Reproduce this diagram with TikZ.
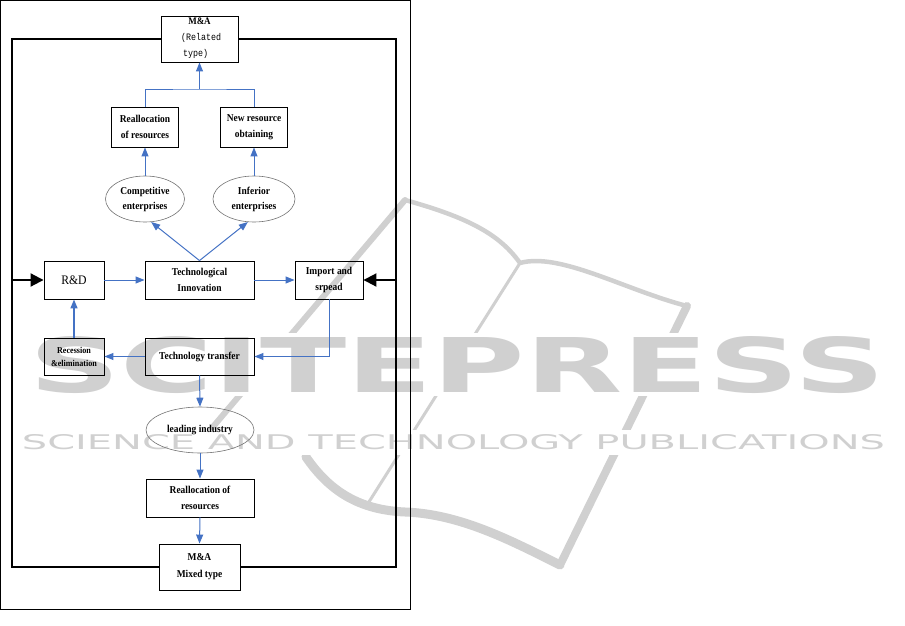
\documentclass[tikz,border=0pt]{standalone}
\usepackage{fontspec}
\setmainfont{Liberation Serif}
\newfontfamily\lbl{Liberation Serif}[FakeStretch=0.9]
\newfontfamily\cjkmono{Liberation Mono}[FakeStretch=0.85]
\newfontfamily\wmfont{DejaVu Sans}
\usepackage{graphicx}
\usetikzlibrary{arrows.meta,shapes.geometric}
\definecolor{arrblue}{RGB}{68,114,196}
\definecolor{wmgray}{RGB}{208,208,208}
\begin{document}
\begin{tikzpicture}[x=1pt,y=-1pt,
  box/.style={draw,line width=0.9pt,inner sep=0pt,align=center,font=\lbl\fontsize{10.5}{16}\selectfont\bfseries},
  ell/.style={ellipse,draw=black!55,line width=0.6pt,inner sep=0pt,align=center,font=\lbl\fontsize{10.5}{15}\selectfont\bfseries},
  bl/.style={draw=arrblue,line width=1pt},
  ba/.style={bl,-{Triangle[length=9pt,width=7pt]},arrblue},
  ka/.style={line width=2pt,-{Triangle[length=13pt,width=13pt]}},
  loopline/.style={line width=2pt},
  wm/.style={draw=wmgray,line cap=round,line join=round}]
\useasboundingbox (0,0) rectangle (905,626);
% watermark
\draw[wm,line width=6pt] (405,200) -- (212,428);
\draw[wm,line width=4.5pt] (405,200) .. controls (470,218) and (500,235) .. (520,263) .. controls (560,252) and (625,290) .. (687,306);
\draw[wm,line width=8pt] (687,306) -- (560,565);
\draw[wm,line width=3pt] (520,263) -- (367,505);
\draw[wm,line width=9pt] (306,457) .. controls (330,492) and (360,510) .. (405,512) .. controls (460,514) and (510,540) .. (560,565);
\fill[white] (0,333) rectangle (905,396);
\fill[white] (0,430) rectangle (905,455);
\node[text=wmgray,inner sep=0pt] (wm1) at (457.5,365) {\resizebox{855pt}{56pt}{\wmfont\bfseries SCITEPRESS}};
\node[text=wmgray,inner sep=0pt] (wm2) at (453.5,442.5) {\resizebox{863pt}{15pt}{\wmfont SCIENCE AND TECHNOLOGY PUBLICATIONS}};
% outer frame
\draw[line width=0.8pt] (0.5,0.5) rectangle (410,609);
% nodes
\node[box,minimum width=77pt,minimum height=46pt] (ma1) at (199.5,39) {};
\node[anchor=base,inner sep=0pt,font=\lbl\fontsize{10}{10}\selectfont\bfseries] (ma1a) at (199.5,25) {M\&A};
\node[anchor=base west,inner sep=0pt,font=\cjkmono\fontsize{9.8}{9.8}\selectfont] (ma1b) at (181,41) {(Related};
\node[anchor=base west,inner sep=0pt,font=\cjkmono\fontsize{9.8}{9.8}\selectfont] (ma1c) at (183,57) {type)};
\node[box,minimum width=67pt,minimum height=40pt] (re1) at (145,127) {Reallocation\\of resources};
\node[box,minimum width=67pt,minimum height=40pt] (nr) at (254,127) {New resource\\obtaining};
\node[ell,minimum width=79pt,minimum height=46pt] (comp) at (145,199) {Competitive\\enterprises};
\node[ell,minimum width=82pt,minimum height=46pt] (inf) at (254,199) {Inferior\\enterprises};
\node[box,minimum width=60pt,minimum height=38pt,font=\lbl\fontsize{13}{13}\selectfont] (rd) at (74,280) {R\&D};
\node[box,minimum width=109pt,minimum height=38pt] (ti) at (199.5,280) {Technological\\Innovation};
\node[box,minimum width=68pt,minimum height=38pt] (imp) at (329,280) {Import and\\srpead};
\node[box,minimum width=60pt,minimum height=37pt,font=\lbl\fontsize{9}{13}\selectfont\bfseries] (rec) at (74,356.5) {Recession\\\&elimination};
\node[box,minimum width=109pt,minimum height=37pt] (tt) at (199.5,356.5) {Technology transfer};
\node[ell,minimum width=108pt,minimum height=46pt] (lead) at (200,430) {leading industry};
\node[box,minimum width=108pt,minimum height=38pt] (re2) at (200,498) {Reallocation of\\resources};
\node[box,minimum width=81pt,minimum height=46pt,font=\lbl\fontsize{10.5}{17}\selectfont\bfseries] (ma2) at (199.5,567) {M\&A\\Mixed type};
\coordinate (L) at (12,280);
\coordinate (R) at (396,280);
\coordinate (j1) at (199.5,89);
% black loop
\draw[loopline] (ma1.west) -| (L) |- (ma2.west);
\draw[loopline] (ma1.east) -| (R) |- (ma2.east);
\draw[ka] (L) -- (rd.west);
\draw[ka] (R) -- (imp.east);
% blue connectors
\draw[ba] (j1) -- (ma1.south);
\draw[bl] (re1.north) |- (j1) -| (nr.north);
\draw[ba] (comp.north) -- (re1.south);
\draw[ba] (inf.north) -- (nr.south);
\draw[ba] (ti.north) -- (comp.-75);
\draw[ba] (ti.north) -- (inf.-105);
\draw[ba] (rd.east) -- (ti.west);
\draw[ba] (ti.east) -- (imp.west);
\draw[ba] (imp.south) |- (tt.east);
\draw[ba] (tt.west) -- (rec.east);
\draw[ba,line width=1.5pt] (rec.north) -- (rd.south);
\draw[ba] (tt.south) -- (lead.north);
\draw[ba] (lead.south) -- (re2.north);
\draw[ba] (re2.south) -- (ma2.north);
\end{tikzpicture}
\end{document}
